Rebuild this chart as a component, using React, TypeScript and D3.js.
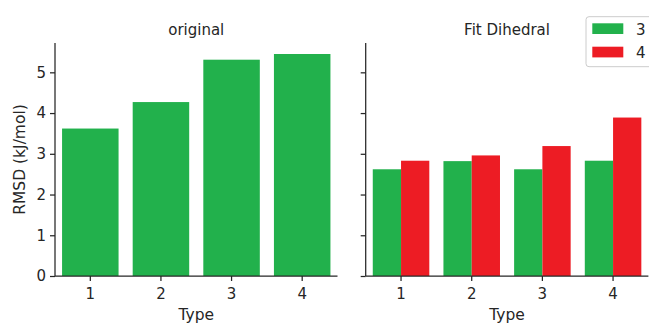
import React, { useEffect, useRef } from 'react';
import * as d3 from 'd3';

const categories = ['1', '2', '3', '4'];
const originalValues = [3.62, 4.27, 5.31, 5.45];
const fitSeries = ['3', '4'];
const fit3Values = [2.62, 2.82, 2.62, 2.83];
const fit4Values = [2.83, 2.96, 3.19, 3.89];
const yTicks = [0, 1, 2, 3, 4, 5];

const GREEN = '#22b14c';
const RED = '#ed1c24';
const INK = '#262626';
const FONT = '"DejaVu Sans", sans-serif';

const App = () => {
  const chartRef = useRef<SVGSVGElement>(null);

  useEffect(() => {
    const svg = d3.select(chartRef.current);
    svg.selectAll('*').remove();

    const width = 649;
    const height = 323;
    const top = 43;
    const bottom = 276;

    const y = d3.scaleLinear().domain([0, 5.72]).range([bottom, top]);

    const panels = [
      { title: 'original', left: 55, right: 337.5, showLabels: true },
      { title: 'Fit Dihedral', left: 365.7, right: 648.4, showLabels: false },
    ];

    const colors = d3.scaleOrdinal<string, string>().domain(fitSeries).range([GREEN, RED]);

    panels.forEach((p, pi) => {
      const x = d3.scaleBand()
        .domain(categories)
        .range([p.left, p.right])
        .paddingInner(0.2)
        .paddingOuter(0.1);

      const g = svg.append('g');

      if (pi === 0) {
        g.selectAll('rect')
          .data(categories)
          .join('rect')
            .attr('x', d => x(d)!)
            .attr('y', (d, i) => y(originalValues[i]))
            .attr('width', x.bandwidth())
            .attr('height', (d, i) => y(0) - y(originalValues[i]))
            .attr('fill', GREEN);
      } else {
        const inner = d3.scaleBand().domain(fitSeries).range([0, x.bandwidth()]);
        const rows = categories.flatMap((c, i) => [
          { cat: c, s: '3', v: fit3Values[i] },
          { cat: c, s: '4', v: fit4Values[i] },
        ]);
        g.selectAll('rect')
          .data(rows)
          .join('rect')
            .attr('x', d => x(d.cat)! + inner(d.s)!)
            .attr('y', d => y(d.v))
            .attr('width', inner.bandwidth())
            .attr('height', d => y(0) - y(d.v))
            .attr('fill', d => colors(d.s));
      }

      // axes
      const yAxis = d3.axisLeft(y).tickValues(yTicks).tickSize(5).tickPadding(4)
        .tickSizeOuter(0)
        .tickFormat(p.showLabels ? (d => String(d)) : () => '');
      const ya = svg.append('g')
        .attr('transform', `translate(${p.left},0)`)
        .call(yAxis);
      ya.select('.domain').attr('d', `M0,${bottom}V${top}`);

      const xAxis = d3.axisBottom(x).tickSize(5).tickPadding(7).tickSizeOuter(0);
      const xa = svg.append('g')
        .attr('transform', `translate(0,${bottom})`)
        .call(xAxis);
      xa.select('.domain').attr('d', `M${p.left},0H${p.right}`);

      [ya, xa].forEach(a => {
        a.selectAll('.domain').attr('stroke', INK).attr('stroke-width', 1.25);
        a.selectAll('.tick line').attr('stroke', INK).attr('stroke-width', 1.25);
        a.selectAll('.tick text')
          .attr('fill', INK)
          .style('font-family', FONT)
          .style('font-size', '15px');
      });

      svg.append('text')
        .attr('x', (p.left + p.right) / 2)
        .attr('y', 35)
        .attr('text-anchor', 'middle')
        .attr('fill', INK)
        .style('font-family', FONT)
        .style('font-size', '15px')
        .text(p.title);

      svg.append('text')
        .attr('x', (p.left + p.right) / 2)
        .attr('y', 320)
        .attr('text-anchor', 'middle')
        .attr('fill', INK)
        .style('font-family', FONT)
        .style('font-size', '15.5px')
        .text('Type');
    });

    svg.append('text')
      .attr('transform', `translate(24.5,${(top + bottom) / 2}) rotate(-90)`)
      .attr('text-anchor', 'middle')
      .attr('fill', INK)
      .style('font-family', FONT)
      .style('font-size', '15.5px')
      .text('RMSD (kJ/mol)');

    // legend
    const legend = svg.append('g');
    legend.append('rect')
      .attr('x', 586).attr('y', 16.7)
      .attr('width', 70).attr('height', 50)
      .attr('rx', 3)
      .attr('fill', 'white').attr('fill-opacity', 0.8)
      .attr('stroke', '#cccccc').attr('stroke-width', 1);
    fitSeries.forEach((s, i) => {
      legend.append('rect')
        .attr('x', 592.3).attr('y', 23.3 + i * 23.4)
        .attr('width', 31).attr('height', 10.7)
        .attr('fill', colors(s));
      legend.append('text')
        .attr('x', 636).attr('y', 34.5 + i * 23.4)
        .attr('fill', INK)
        .style('font-family', FONT)
        .style('font-size', '15px')
        .text(s);
    });

    svg.attr('width', width).attr('height', height);
  }, []);

  return (
    <svg
      ref={chartRef}
      width="649"
      height="323"
      style={{ position: 'absolute', left: 0, top: 0, background: 'white' }}
    ></svg>
  );
};

export default App;
